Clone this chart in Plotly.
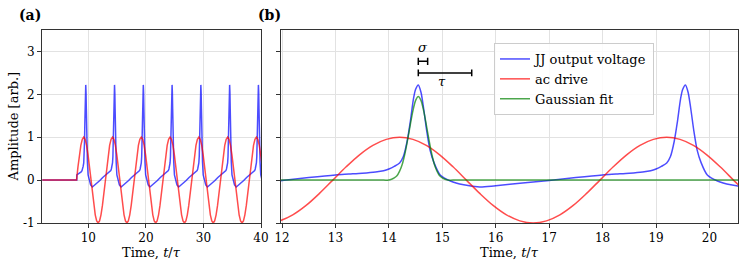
import plotly.graph_objects as go

# ---------------- data ----------------
# JJ response: switched on at t/tau = 8; each drive period lasts 5 tau
JJ_STARTS = [8, 13, 18, 23, 28, 33, 38]
# ac drive period starts (rising zero crossings)
DRIVE_STARTS = [7.95, 12.95, 17.95, 22.95, 27.95, 32.95, 37.95]
T_START = 2.0

# JJ output voltage over one drive period (phase = t/tau - period start)
JJ_PHASE = [0.00, 0.25, 0.50, 0.75, 0.90, 1.00, 1.10, 1.20, 1.27, 1.34, 1.40, 1.46,
            1.50, 1.55, 1.60, 1.65, 1.71, 1.77, 1.84, 1.96, 2.15, 2.40, 2.70, 3.00,
            3.50, 4.00, 4.50, 5.00]
JJ_CYCLE = [0.12, 0.14, 0.16, 0.19, 0.22, 0.26, 0.32, 0.40, 0.55, 0.90, 1.36, 1.90,
            2.12, 2.22, 2.05, 1.67, 1.13, 0.70, 0.42, 0.12, -0.02, -0.11, -0.16, -0.13,
            -0.07, -0.01, 0.06, 0.12]

# ac drive over one period
DRIVE_PHASE = [0.00, 0.25, 0.50, 0.75, 1.00, 1.25, 1.50, 1.75, 2.00, 2.25, 2.50,
               2.75, 3.00, 3.25, 3.50, 3.75, 4.00, 4.25, 4.50, 4.75, 5.00]
DRIVE_CYCLE = [0.00, 0.31, 0.59, 0.81, 0.95, 1.00, 0.95, 0.81, 0.59, 0.31, 0.00,
               -0.31, -0.59, -0.81, -0.95, -1.00, -0.95, -0.81, -0.59, -0.31, 0.00]

# Gaussian fit of the spike near t/tau = 14.55
GAUSS_T = [11.90, 13.90, 14.00, 14.05, 14.10, 14.15, 14.20, 14.25, 14.30, 14.35, 14.40,
           14.45, 14.50, 14.55, 14.60, 14.65, 14.70, 14.75, 14.80, 14.85, 14.90, 14.95,
           15.00, 15.05, 15.10, 15.20, 20.60]
GAUSS_V = [0.00, 0.00, 0.00, 0.02, 0.05, 0.10, 0.21, 0.37, 0.62, 0.94, 1.29,
           1.62, 1.86, 1.95, 1.86, 1.62, 1.29, 0.94, 0.62, 0.37, 0.21, 0.10,
           0.05, 0.02, 0.00, 0.00, 0.00]

# sigma / tau scale bars (t/tau, amplitude)
BAR_START = 14.55
SIGMA_WIDTH = 0.175
TAU_WIDTH = 1.0
SIGMA_Y = 2.77
TAU_Y = 2.50

X_TICKS_A = [10, 20, 30, 40]
X_TICKS_B = [12, 13, 14, 15, 16, 17, 18, 19, 20]
Y_TICKS = [-1, 0, 1, 2, 3]
Y_TICK_LABELS = ["-1", "0", "1", "2", "3"]

X_RANGE_A = [1.95, 40.0]
X_RANGE_B = [11.98, 20.54]
Y_RANGE = [-1.0, 3.5]


# ---------------- assemble full time series ----------------
def tile(starts, phase, cycle, pre_value):
    ts, vs = [T_START, starts[0]], [pre_value, pre_value]
    for k, s in enumerate(starts):
        for j, (p, v) in enumerate(zip(phase, cycle)):
            if k > 0 and j == 0:
                continue
            ts.append(s + p)
            vs.append(v)
    return ts, vs


jj_t, jj_v = tile(JJ_STARTS, JJ_PHASE, JJ_CYCLE, 0.0)
dr_t, dr_v = tile(DRIVE_STARTS, DRIVE_PHASE, DRIVE_CYCLE, 0.0)

BLUE = "rgba(0,0,255,0.7)"
RED = "rgba(255,0,0,0.7)"
GREEN = "rgba(0,128,0,0.7)"
FONT = "DejaVu Serif"
LW = 1.5

fig = go.Figure()
# panel (a)
fig.add_trace(go.Scatter(x=jj_t, y=jj_v, mode="lines", line=dict(color=BLUE, width=LW),
                         showlegend=False, xaxis="x", yaxis="y"))
fig.add_trace(go.Scatter(x=dr_t, y=dr_v, mode="lines", line=dict(color=RED, width=LW),
                         showlegend=False, xaxis="x", yaxis="y"))
# panel (b)
fig.add_trace(go.Scatter(x=jj_t, y=jj_v, mode="lines", name="JJ output voltage",
                         line=dict(color=BLUE, width=LW, shape="spline", smoothing=0.8),
                         xaxis="x2", yaxis="y2"))
fig.add_trace(go.Scatter(x=dr_t, y=dr_v, mode="lines", name="ac drive",
                         line=dict(color=RED, width=LW, shape="spline", smoothing=1),
                         xaxis="x2", yaxis="y2"))
fig.add_trace(go.Scatter(x=GAUSS_T, y=GAUSS_V, mode="lines", name="Gaussian fit",
                         line=dict(color=GREEN, width=LW, shape="spline", smoothing=0.8),
                         xaxis="x2", yaxis="y2"))

W, H = 748, 267
ax_common = dict(showline=True, mirror=True, linecolor="#333333", linewidth=1,
                 ticks="outside", ticklen=4, tickcolor="#333333", tickwidth=1,
                 showgrid=True, gridcolor="#e2e2e2", gridwidth=1, zeroline=False,
                 automargin=False,
                 tickfont=dict(family=FONT, size=12, color="black"))
ydom = [44 / H, 237 / H]
fig.update_layout(
    width=W, height=H, margin=dict(l=0, r=0, t=0, b=0),
    plot_bgcolor="white", paper_bgcolor="white",
    xaxis=dict(ax_common, domain=[42 / W, 261 / W], range=X_RANGE_A, tickvals=X_TICKS_A),
    yaxis=dict(ax_common, domain=ydom, range=Y_RANGE, tickvals=Y_TICKS,
               ticktext=Y_TICK_LABELS),
    xaxis2=dict(ax_common, domain=[281 / W, 738.3 / W], range=X_RANGE_B,
                tickvals=X_TICKS_B, anchor="y2"),
    yaxis2=dict(ax_common, domain=ydom, range=Y_RANGE, tickvals=Y_TICKS,
                showticklabels=False, anchor="x2"),
    legend=dict(x=494 / W, y=1 - 43 / H, xanchor="left", yanchor="top",
                bgcolor="rgba(255,255,255,0.85)", bordercolor="#cccccc", borderwidth=1,
                font=dict(family=FONT, size=13, color="black"), itemwidth=30,
                tracegroupgap=0),
    font=dict(family=FONT, color="black"),
)


# scale bars
def ibar(x0, x1, y, cap):
    s = dict(type="line", xref="x2", yref="y2", line=dict(color="black", width=1.5))
    return [dict(s, x0=x0, x1=x1, y0=y, y1=y),
            dict(s, x0=x0, x1=x0, y0=y - cap, y1=y + cap),
            dict(s, x0=x1, x1=x1, y0=y - cap, y1=y + cap)]


shapes = ibar(BAR_START, BAR_START + SIGMA_WIDTH, SIGMA_Y, 0.085) + \
         ibar(BAR_START, BAR_START + TAU_WIDTH, TAU_Y, 0.08)
fig.update_layout(shapes=shapes)

ann = [
    dict(text="<b>(a)</b>", x=43 / W, y=1 - 15 / H, xref="paper", yref="paper",
         xanchor="right", yanchor="middle", showarrow=False, font=dict(size=14)),
    dict(text="<b>(b)</b>", x=283 / W, y=1 - 15 / H, xref="paper", yref="paper",
         xanchor="right", yanchor="middle", showarrow=False, font=dict(size=14)),
    dict(text="Time, <i>t</i>/<i>τ</i>", x=(42 + 261) / 2 / W, y=1 - 252 / H,
         xref="paper", yref="paper", xanchor="center", yanchor="middle",
         showarrow=False, font=dict(size=13)),
    dict(text="Time, <i>t</i>/<i>τ</i>", x=(281 + 738) / 2 / W, y=1 - 252 / H,
         xref="paper", yref="paper", xanchor="center", yanchor="middle",
         showarrow=False, font=dict(size=13)),
    dict(text="Amplitude [arb.]", x=13 / W, y=1 - 126.5 / H, xref="paper", yref="paper",
         xanchor="center", yanchor="middle", textangle=-90, showarrow=False,
         font=dict(size=13)),
    dict(text="<i>σ</i>", x=BAR_START + SIGMA_WIDTH / 2, y=3.1, xref="x2", yref="y2",
         xanchor="center", yanchor="middle", showarrow=False, font=dict(size=13)),
    dict(text="<i>τ</i>", x=14.99, y=2.29, xref="x2", yref="y2",
         xanchor="center", yanchor="middle", showarrow=False, font=dict(size=13)),
]
fig.update_layout(annotations=ann)

fig.write_html("out.html",
               config={"displayModeBar": False},
               post_script="document.body.style.margin='0';"
                           "document.body.style.padding='0';"
                           "document.body.style.overflow='hidden';")
